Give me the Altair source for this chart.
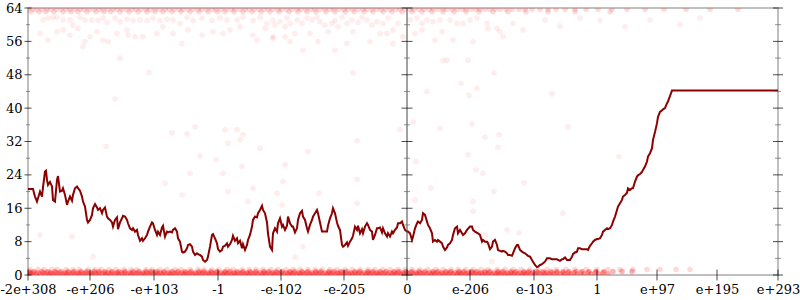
import altair as alt
import pandas as pd

# ---- axis ticks / labels ----
tick_pos = [28, 90, 154, 218, 281, 344, 407, 470, 534, 597, 657, 717, 778]
tick_labels = ["-2e+308", "-e+206", "-e+103", "-1", "-e-102", "-e-205", "0",
               "e-206", "e-103", "1", "e+97", "e+195", "e+293"]
y_major = [0, 8, 16, 24, 32, 40, 48, 56, 64]
y_minor = [4, 12, 20, 28, 36, 44, 52, 60]

# ---- averaged error line ----
line_x = [28, 30, 33, 35, 37, 38, 40, 42, 43, 45, 46, 47, 48, 50, 52, 53, 55, 57, 58, 60,
          62, 63, 65, 67, 68, 70, 72, 73, 75, 77, 78, 80, 82, 83, 85, 87, 88, 90, 92, 93,
          95, 97, 98, 100, 102, 103, 105, 107, 108, 110, 112, 113, 115, 117, 118, 120, 122, 123, 125, 127,
          128, 130, 132, 133, 135, 137, 138, 140, 142, 143, 145, 147, 148, 150, 152, 153, 155, 157, 158, 160,
          162, 163, 165, 167, 168, 170, 172, 173, 175, 177, 178, 180, 182, 183, 185, 187, 188, 190, 192, 193,
          195, 197, 198, 200, 202, 203, 205, 207, 208, 210, 212, 213, 215, 217, 218, 220, 222, 223, 225, 227,
          228, 230, 232, 233, 235, 237, 238, 240, 242, 243, 245, 247, 248, 250, 252, 253, 255, 257, 258, 260,
          262, 263, 265, 267, 268, 270, 272, 273, 275, 277, 278, 280, 282, 283, 285, 287, 288, 290, 292, 293,
          295, 297, 298, 300, 302, 303, 305, 307, 308, 310, 312, 313, 315, 317, 318, 320, 322, 323, 327, 328,
          330, 332, 333, 335, 337, 338, 340, 342, 343, 345, 347, 348, 350, 352, 353, 355, 357, 358, 360, 362,
          363, 365, 367, 368, 370, 372, 373, 375, 377, 378, 380, 382, 383, 385, 387, 388, 390, 392, 393, 395,
          397, 398, 400, 402, 403, 405, 407, 408, 410, 412, 413, 415, 417, 418, 420, 422, 423, 425, 427, 428,
          430, 432, 433, 435, 437, 438, 440, 442, 443, 445, 447, 448, 450, 452, 453, 455, 457, 458, 460, 462,
          463, 465, 467, 470, 472, 473, 475, 478, 480, 482, 483, 485, 487, 488, 490, 492, 493, 495, 497, 498,
          500, 502, 503, 505, 507, 508, 510, 512, 513, 515, 517, 518, 520, 522, 523, 525, 527, 528, 530, 532,
          533, 535, 537, 538, 540, 542, 543, 545, 547, 550, 552, 557, 558, 560, 562, 563, 565, 567, 570, 572,
          573, 575, 577, 578, 580, 582, 587, 588, 590, 592, 593, 595, 597, 598, 600, 602, 603, 605, 607, 608,
          610, 612, 613, 615, 617, 618, 620, 622, 623, 625, 627, 628, 630, 632, 633, 635, 637, 638, 640, 642,
          643, 645, 647, 648, 650, 652, 653, 655, 657, 658, 660, 662, 663, 665, 667, 668, 670, 672, 778]
line_err = [20.6, 20.6, 20.6, 18.8, 17.6, 18.4, 20.0, 18.8, 21.0, 24.8, 25.0, 22.8, 21.6, 22.3, 21.2, 18.0, 17.6, 22.8, 23.7, 20.0,
            20.2, 20.8, 19.2, 16.8, 17.6, 18.8, 17.8, 19.2, 20.8, 21.2, 20.8, 20.2, 18.8, 17.6, 16.4, 13.2, 12.6, 13.2, 14.4, 16.0,
            17.0, 16.2, 15.6, 16.0, 14.8, 15.6, 16.2, 14.0, 13.6, 13.2, 12.6, 11.6, 13.2, 13.8, 11.0, 12.6, 13.6, 14.2, 14.0, 13.2,
            12.4, 11.2, 10.8, 11.2, 10.4, 10.8, 9.6, 8.2, 8.8, 8.2, 8.8, 9.6, 10.4, 11.6, 12.6, 12.4, 10.8, 9.6, 10.4, 9.6,
            11.4, 11.8, 9.2, 10.4, 10.2, 10.4, 10.2, 10.8, 11.2, 10.4, 8.8, 8.0, 5.6, 5.4, 5.6, 6.4, 7.2, 7.4, 6.8, 5.6,
            4.8, 5.2, 5.0, 4.8, 4.4, 3.6, 3.2, 3.6, 4.4, 6.8, 9.6, 9.8, 8.8, 7.6, 6.2, 5.6, 6.0, 6.8, 7.0, 7.6,
            6.8, 7.4, 8.4, 9.4, 8.2, 8.8, 7.6, 8.2, 6.4, 7.4, 6.0, 7.2, 8.4, 9.6, 11.6, 13.2, 14.0, 13.8, 14.8, 15.6,
            16.6, 15.6, 14.8, 12.6, 10.0, 6.8, 6.0, 10.0, 11.2, 10.4, 12.4, 13.6, 11.6, 12.0, 10.8, 11.8, 14.0, 12.4, 11.6, 11.6,
            10.2, 11.2, 13.2, 14.8, 15.4, 14.0, 13.2, 11.2, 10.4, 12.0, 13.2, 14.0, 14.8, 15.6, 14.8, 12.6, 10.4, 10.4, 10.4, 11.8,
            13.6, 14.8, 16.0, 14.8, 12.6, 11.8, 10.8, 7.2, 6.8, 7.2, 7.8, 7.0, 8.0, 8.8, 9.4, 11.6, 10.8, 11.8, 10.0, 11.0,
            10.0, 11.6, 12.4, 12.0, 10.8, 10.4, 8.4, 9.6, 11.2, 11.2, 11.4, 10.2, 11.2, 10.0, 9.2, 10.0, 9.2, 10.4, 10.0, 10.8,
            11.4, 12.4, 12.4, 12.8, 12.0, 10.8, 10.4, 10.4, 10.0, 8.4, 9.2, 11.2, 12.4, 12.8, 12.4, 13.2, 14.8, 14.4, 12.8, 12.0,
            11.2, 10.0, 8.0, 8.4, 8.0, 8.4, 8.0, 7.6, 6.8, 6.0, 6.6, 7.2, 7.6, 8.4, 9.6, 11.2, 11.6, 10.0, 10.8, 10.0,
            9.6, 10.0, 10.8, 11.6, 11.6, 10.8, 10.4, 10.0, 9.6, 8.0, 8.4, 8.0, 8.0, 7.6, 6.2, 6.8, 8.0, 8.4, 7.2, 6.0,
            5.8, 5.6, 5.8, 5.6, 5.2, 4.8, 4.8, 4.6, 5.2, 6.4, 7.2, 7.2, 6.0, 5.6, 5.4, 5.2, 4.8, 4.6, 4.4, 3.6,
            3.2, 2.4, 1.9, 2.0, 2.4, 2.6, 2.8, 3.2, 4.0, 4.0, 3.8, 3.8, 3.6, 3.4, 3.8, 3.8, 4.2, 3.6, 3.6, 4.4,
            5.0, 5.4, 5.6, 6.4, 6.4, 6.2, 6.2, 6.0, 7.0, 7.6, 8.0, 8.4, 8.6, 8.6, 8.8, 9.6, 10.4, 10.8, 11.2, 11.0,
            11.2, 12.0, 12.8, 14.0, 15.6, 16.4, 17.2, 18.0, 18.8, 19.2, 19.7, 20.8, 20.4, 20.8, 20.8, 22.4, 23.6, 23.9, 24.2, 24.7,
            25.2, 26.0, 27.2, 28.4, 29.2, 30.4, 32.4, 34.3, 36.4, 37.9, 39.1, 39.5, 39.7, 40.0, 41.2, 41.6, 42.9, 44.2, 44.2]

# ---- individual sampled errors (points) ----
band_levels = [0.25, 0.55, 0.85, 1.3, 63.7, 63.1]
bottom_dense_x = [28, 31, 36, 40, 45, 50, 53, 58, 63, 66, 71, 76, 79, 84, 89, 92, 97, 102, 106, 110,
                  115, 118, 123, 128, 131, 136, 141, 144, 149, 154, 158, 162, 167, 170, 175, 180, 184, 188, 193, 196,
                  201, 206, 209, 214, 219, 223, 227, 232, 235, 240, 245, 248, 253, 258, 262, 266, 271, 274, 279, 284,
                  288, 292, 297, 300, 305, 310, 313, 318, 323, 327, 331, 336, 339, 344, 349, 352, 357, 362, 366, 370,
                  375, 378, 383, 388, 392, 396, 401, 404, 409, 414, 417, 422, 427, 431, 435, 440, 443, 448, 453, 457,
                  461, 466, 469, 474, 479, 482, 487, 492, 496, 500, 505, 508, 513, 518, 522, 526, 531, 535, 540, 545,
                  549, 554, 560, 565, 571, 577, 584, 591, 599, 608]
bottom_second_x = [30, 33, 38, 43, 47, 51, 56, 60, 65, 69, 73, 78, 82, 86, 91, 95, 99, 104, 108, 112,
                   117, 121, 125, 130, 134, 138, 143, 147, 151, 156, 160, 164, 169, 173, 177, 182, 186, 190, 195, 199,
                   203, 208, 212, 216, 221, 225, 229, 234, 238, 242, 247, 251, 255, 260, 264, 268, 273, 277, 281, 286,
                   290, 294, 299, 303, 307, 312, 316, 320, 325, 329, 333, 338, 342, 346, 351, 355, 359, 364, 368, 372,
                   377, 381, 385, 390, 394, 398, 403, 407, 411, 416, 420, 424, 429, 433, 437, 442, 446, 450, 455, 459,
                   463, 468, 472, 476, 481, 485, 489, 494, 498, 502, 507, 511, 515, 520, 524, 528, 533, 538, 543, 547,
                   552, 557, 563, 568, 574, 581, 588, 595, 603]
bottom_mid_x = [29, 34, 42, 48, 55, 61, 68, 74, 81, 87, 94, 99, 105, 112, 119, 125, 133, 139, 146, 151,
                157, 164, 172, 178, 185, 191, 199, 204, 211, 217, 225, 230, 237, 243, 250, 256, 264, 269, 276, 282,
                290, 295, 302, 308, 316, 321, 329, 334, 341, 347, 355, 360, 368, 373, 380, 386, 394, 399, 406, 412,
                419, 425, 433, 438, 446, 451, 459, 464, 472, 477, 485, 490, 498, 503, 511, 516, 524, 529, 537, 543,
                551, 557, 563, 569, 576, 582, 589, 596, 604, 613, 622, 632]
bottom_upper_x = [30, 38, 44, 52, 57, 66, 73, 79, 88, 95, 101, 109, 116, 124, 131, 137, 146, 152, 160, 167,
                  175, 181, 190, 198, 204, 212, 219, 227, 233, 242, 249, 256, 263, 271, 278, 286, 293, 300, 308, 315,
                  322, 330, 337, 345, 352, 360, 368, 375, 383, 390, 398, 405, 412, 420, 428, 436, 443, 451, 458, 466,
                  473, 481, 488, 497, 505, 513, 521, 530, 538, 547, 556, 566, 575, 586, 597, 608, 620, 633, 647, 660,
                  676, 690]
top_edge_x = [28, 33, 37, 42, 47, 51, 56, 61, 66, 70, 75, 80, 84, 89, 94, 99, 103, 108, 113, 117,
              122, 127, 132, 136, 141, 146, 150, 155, 160, 165, 169, 174, 179, 183, 188, 193, 198, 202, 207, 212,
              216, 221, 226, 231, 235, 240, 245, 249, 254, 259, 264, 268, 273, 278, 282, 287, 292, 297, 301, 306,
              311, 315, 320, 325, 330, 334, 339, 344, 348, 353, 358, 363, 367, 372, 377, 381, 386, 391, 396, 400,
              405, 410, 414, 419, 424, 429, 433, 438, 443, 447, 452, 457, 462, 466, 471, 476, 480, 485, 490, 495,
              500, 506, 512, 519, 525, 532, 540, 548, 556, 565, 575, 586, 598, 612, 627, 645, 664, 686, 710, 738]
top_under_x = [31, 39, 46, 54, 63, 71, 78, 87, 96, 104, 111, 120, 129, 138, 147, 155, 163, 172, 181, 190,
               199, 208, 217, 225, 234, 243, 252, 261, 270, 279, 289, 298, 307, 316, 326, 335, 345, 354, 364, 373,
               383, 392, 402, 412, 422, 432, 443, 454, 466, 479, 493, 508, 526, 548, 575, 610]

scatter_x = [43, 48, 53, 57, 63, 70, 73, 80, 85, 92, 98, 103, 107, 115, 120, 127, 133, 140, 147, 153,
             160, 167, 173, 180, 187, 193, 202, 212, 220, 227, 237, 243, 253, 260, 267, 273,
             40, 48, 57, 63, 70, 78, 85, 83, 90, 97, 103, 108, 117, 127, 128, 135, 143, 157, 163, 173,
             182, 188, 202, 213, 223, 230, 240, 253, 257, 265, 273,
             275, 280, 285, 287, 290, 297, 302, 307, 312, 317, 320, 325, 332, 335, 338, 342, 347, 352, 358, 362,
             367, 372, 377, 383, 388, 393, 398, 410, 417, 422, 427, 433, 440, 450, 457, 463, 470, 477, 487, 497,
             513, 523, 545, 560, 580, 600, 625, 650, 680, 700,
             273, 285, 290, 295, 303, 310, 318, 328, 335, 347, 353, 370, 380, 387, 393, 403, 415, 422, 435, 442,
             453, 473, 488, 500, 503,
             40, 72, 93, 106, 165, 172, 182, 187, 195, 190, 200, 216, 223, 225, 228, 228, 237, 240, 243, 242,
             248, 253, 260, 277, 282, 285, 283, 295, 303, 308, 319, 357, 357, 357,
             427, 461, 469, 477, 494, 472, 485, 499, 498, 440, 413, 400, 416, 468, 476, 483, 552, 568, 619, 524,
             494, 431, 473, 473, 563, 507, 519, 492, 485, 415, 443, 120, 149, 115, 447, 468, 353]
scatter_y = [61.1, 61.6, 61.8, 61.8, 61.1, 61.1, 59.9, 61.8, 61.1, 61.1, 61.0, 61.6, 60.5, 61.6, 60.7, 61.3, 61.0, 61.1, 61.0, 61.6,
             61.0, 61.3, 61.1, 60.3, 61.8, 61.0, 61.6, 61.0, 61.6, 61.1, 61.1, 61.8, 61.0, 61.8, 60.3, 61.1,
             57.9, 56.3, 58.3, 58.7, 57.5, 59.1, 55.9, 54.7, 57.1, 58.3, 56.3, 55.9, 57.9, 58.7, 57.5, 57.1, 57.1, 57.9, 59.5, 57.9,
             55.5, 58.7, 57.5, 58.3, 57.9, 58.7, 59.5, 57.5, 56.3, 59.1, 57.1,
             59.9, 60.7, 59.5, 61.6, 60.3, 61.1, 60.3, 61.6, 61.1, 61.8, 60.7, 59.9, 60.3, 61.0, 59.5, 61.8, 60.3, 61.1, 60.5, 61.8,
             61.1, 59.9, 60.7, 60.3, 61.6, 58.7, 60.3, 61.1, 61.6, 60.3, 61.1, 60.7, 61.1, 61.1, 60.3, 60.3, 61.1, 61.6, 60.3, 59.1,
             60.3, 58.7, 61.1, 59.7, 61.6, 61.0, 59.5, 61.1, 60.0, 61.6,
             56.7, 57.1, 55.9, 57.9, 53.9, 57.9, 55.9, 58.3, 53.9, 55.5, 58.3, 55.9, 57.9, 57.9, 55.5, 57.1, 57.9, 58.7, 56.3, 58.3,
             56.3, 55.9, 59.1, 58.3, 57.1,
             9.6, 9.2, 4.4, 30.8, 22.0, 34.1, 19.2, 33.8, 35.5, 24.4, 28.5, 27.6, 24.4, 34.8, 31.6, 20.0, 34.8, 32.4, 33.6, 26.0,
             17.6, 20.8, 30.4, 19.6, 16.8, 26.4, 22.4, 4.4, 6.8, 29.6, 19.6, 32.2, 22.9, 17.2,
             43.9, 45.9, 43.1, 44.7, 48.5, 36.2, 33.0, 33.6, 30.6, 35.2, 36.7, 34.8, 27.2, 28.8, 25.2, 24.4, 43.4, 35.5, 28.4, 22.1,
             20.0, 20.9, 17.6, 15.3, 14.8, 10.8, 10.1, 3.2, 9.6, 18.0, 51.5, 52.0, 48.5, 42.2, 51.5, 51.5, 48.4]

# ---- build tables ----
line_df = pd.DataFrame({"pos": line_x, "err": line_err})
strong_df = pd.concat([
    pd.DataFrame({"pos": bottom_dense_x, "err": band_levels[0]}),
    pd.DataFrame({"pos": bottom_second_x, "err": band_levels[1]}),
    pd.DataFrame({"pos": bottom_mid_x, "err": band_levels[2]}),
], ignore_index=True)
medium_df = pd.concat([
    pd.DataFrame({"pos": bottom_upper_x, "err": band_levels[3]}),
    pd.DataFrame({"pos": top_edge_x, "err": band_levels[4]}),
    pd.DataFrame({"pos": top_under_x, "err": band_levels[5]}),
], ignore_index=True)
faint_df = pd.DataFrame({"pos": scatter_x, "err": scatter_y})

xtick_df = pd.DataFrame({"pos": tick_pos, "err": 0})
x_left, x_mid, x_right = tick_pos[0], tick_pos[6], tick_pos[-1]
mid_df = pd.DataFrame({"pos": [x_mid], "err": [y_major[0]], "err2": [y_major[-1]]})

xs = alt.Scale(domain=[tick_pos[0], tick_pos[-1]], nice=False, zero=False)
ys = alt.Scale(domain=[y_major[0], y_major[-1]], nice=False, zero=False)

label_expr = " : ".join(f"datum.value == {p} ? '{l}'" for p, l in zip(tick_pos, tick_labels)) + " : ''"

FONT = "DejaVu Serif"
x_axis = alt.Axis(values=tick_pos, labelExpr=label_expr, ticks=False, tickSize=0, domain=False,
                  grid=False, labelPadding=8, labelOverlap=False, labelBound=False, labelFlush=False,
                  labelFont=FONT, labelFontSize=13, labelColor="black", title=None)
y_axis = alt.Axis(values=y_major, ticks=False, tickSize=0, domain=False, grid=False,
                  labelPadding=6, labelOverlap=False, labelFont=FONT, labelFontSize=13,
                  labelColor="black", title=None)
X = alt.X("pos:Q", scale=xs, axis=x_axis)
Y = alt.Y("err:Q", scale=ys, axis=y_axis)


def cloud(df, op, stroke_op):
    return alt.Chart(df).mark_circle(
        color="#ff0000", opacity=op, size=30, stroke="#ff0000", strokeWidth=1,
        strokeOpacity=stroke_op, clip=True
    ).encode(x=X, y=Y)


line = alt.Chart(line_df).mark_line(color="#8b0000", strokeWidth=2).encode(x=X, y=Y)

mid_rule = alt.Chart(mid_df).mark_rule(color="#444444", strokeWidth=1).encode(x=X, y=Y, y2="err2:Q")

xticks = alt.Chart(xtick_df).mark_tick(orient="vertical", size=11, thickness=1, color="black").encode(x=X, y=Y)


def vticks(xp, major_size, minor_size):
    a = alt.Chart(pd.DataFrame({"pos": xp, "err": y_major})).mark_tick(
        orient="horizontal", size=major_size, thickness=1, color="black").encode(x=X, y=Y)
    b = alt.Chart(pd.DataFrame({"pos": xp, "err": y_minor})).mark_tick(
        orient="horizontal", size=minor_size, thickness=1, color="#666666").encode(x=X, y=Y)
    return [a, b]


layers = [cloud(faint_df, 0.07, 0.1), cloud(medium_df, 0.15, 0.0), cloud(strong_df, 0.3, 0.0),
          line, mid_rule, xticks] \
    + vticks(x_left, 7, 4) + vticks(x_mid, 11, 6) + vticks(x_right, 10, 6)

chart = alt.layer(*layers).properties(
    width=750, height=267,
    background="white",
    autosize=alt.AutoSizeParams(type="none"),
    padding={"left": 28, "top": 8, "right": 22, "bottom": 25},
).configure_view(
    stroke="#aaaaaa", strokeWidth=1.5
)

chart.save("out.html", embed_options={"renderer": "svg", "actions": False})
